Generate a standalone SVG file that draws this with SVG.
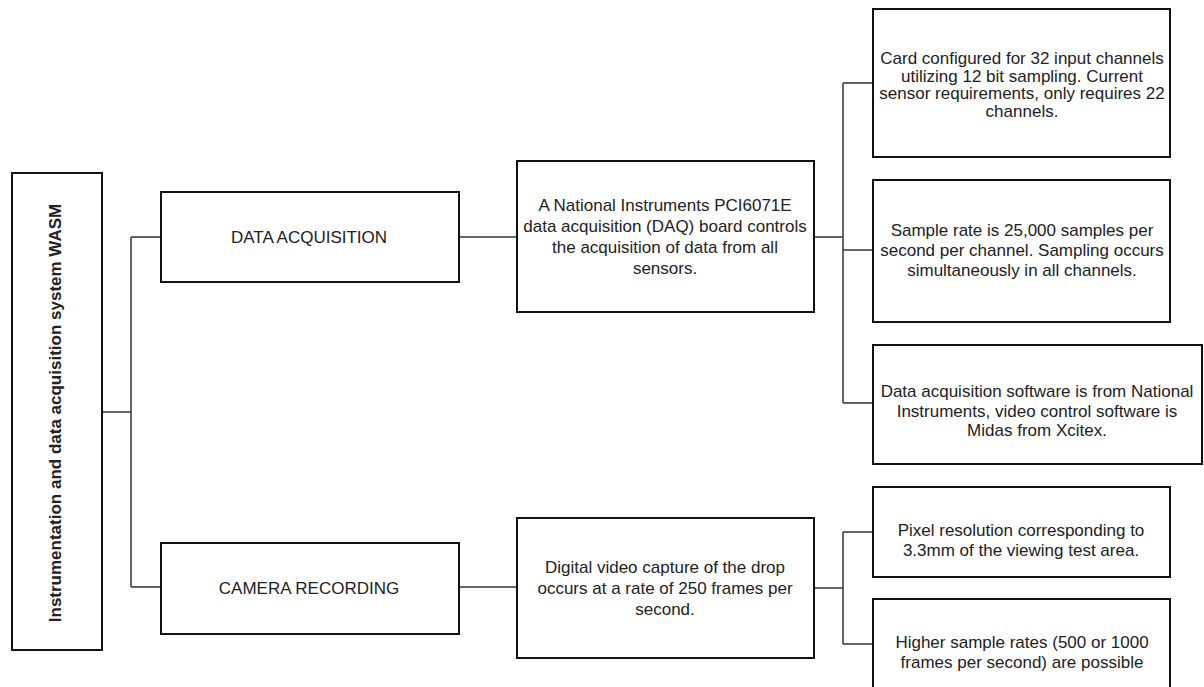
<svg xmlns="http://www.w3.org/2000/svg" width="1204" height="687" viewBox="0 0 1204 687">
<style>
.box{fill:#fff;stroke:#111;stroke-width:2}
.t{font-family:"Liberation Sans",Arial,sans-serif;font-size:17px;fill:#222;text-anchor:middle}
.tb{font-family:"Liberation Sans",Arial,sans-serif;font-size:17px;font-weight:bold;fill:#222;text-anchor:middle}
.c{fill:none;stroke:#333;stroke-width:1.5}
</style>
<rect width="1204" height="687" fill="#fff"/>
<g id="connectors">
<path class="c" d="M102,412 H131 M131,237 V587 M131,237 H161 M131,587 H161"/>
<path class="c" d="M459,237 H517"/>
<path class="c" d="M459,587 H517"/>
<path class="c" d="M814,237 H843 M843,83 V403 M843,83 H873 M843,250 H873 M843,403 H873"/>
<path class="c" d="M814,588 H843 M843,532 V644 M843,532 H873 M843,644 H873"/>
</g>
<g id="root">
<rect class="box" x="12" y="173" width="90" height="477"/>
<text class="tb" transform="translate(61,413) rotate(-90)">Instrumentation and data acquisition system WASM</text>
</g>
<g id="data-acquisition">
<rect class="box" x="161" y="192" width="298" height="90"/>
<text class="t" x="309" y="243">DATA ACQUISITION</text>
</g>
<g id="camera-recording">
<rect class="box" x="161" y="543" width="298" height="91"/>
<text class="t" x="309" y="594">CAMERA RECORDING</text>
</g>
<g id="daq-board">
<rect class="box" x="517" y="161" width="297" height="151"/>
<text class="t" x="665" y="211">A National Instruments PCI6071E</text>
<text class="t" x="665" y="232">data acquisition (DAQ) board controls</text>
<text class="t" x="665" y="253">the acquisition of data from all</text>
<text class="t" x="665" y="274">sensors.</text>
</g>
<g id="video-capture">
<rect class="box" x="517" y="518" width="297" height="140"/>
<text class="t" x="665" y="573">Digital video capture of the drop</text>
<text class="t" x="665" y="594">occurs at a rate of 250 frames per</text>
<text class="t" x="665" y="615">second.</text>
</g>
<g id="card-config">
<rect class="box" x="873" y="9" width="297" height="148"/>
<text class="t" x="1022" y="64">Card configured for 32 input channels</text>
<text class="t" x="1022" y="82">utilizing 12 bit sampling. Current</text>
<text class="t" x="1022" y="99">sensor requirements, only requires 22</text>
<text class="t" x="1022" y="117">channels.</text>
</g>
<g id="sample-rate">
<rect class="box" x="873" y="180" width="297" height="142"/>
<text class="t" x="1022" y="236">Sample rate is 25,000 samples per</text>
<text class="t" x="1022" y="256">second per channel. Sampling occurs</text>
<text class="t" x="1022" y="276">simultaneously in all channels.</text>
</g>
<g id="software">
<rect class="box" x="873" y="345" width="329" height="119"/>
<text class="t" x="1037" y="397">Data acquisition software is from National</text>
<text class="t" x="1037" y="417">Instruments, video control software is</text>
<text class="t" x="1037" y="436">Midas from Xcitex.</text>
</g>
<g id="pixel-resolution">
<rect class="box" x="873" y="487" width="297" height="90"/>
<text class="t" x="1021" y="536">Pixel resolution corresponding to</text>
<text class="t" x="1021" y="556">3.3mm of the viewing test area.</text>
</g>
<g id="higher-rates">
<rect class="box" x="873" y="599" width="297" height="110"/>
<text class="t" x="1022" y="648">Higher sample rates (500 or 1000</text>
<text class="t" x="1022" y="668">frames per second) are possible</text>
</g>
</svg>
